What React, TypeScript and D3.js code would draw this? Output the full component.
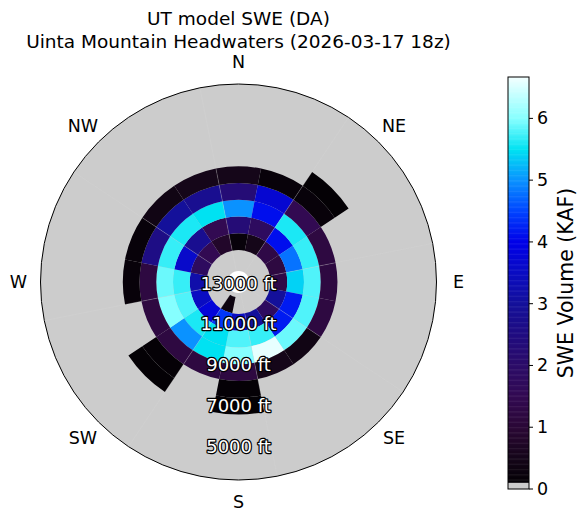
import React from "react";
import * as d3 from "d3";

// aspect bins, clockwise from north, 22.5 deg each
const aspects = ["N", "NNE", "NE", "ENE", "E", "ESE", "SE", "SSE", "S", "SSW", "SW", "WSW", "W", "WNW", "NW", "NNW"];
// elevation bands, bottom edge in metres (each 250 m tall)
const bandBottomsM = [3500, 3250, 3000, 2750, 2500, 2250, 2000];
const bandHeightM = 250;

// SWE volume (KAF) per aspect, one array per band; null = no data
const swe3500 = [null, null, null, null, null, null, null, null, null, 0.3, null, null, null, null, null, null];
const swe3250 = [0.2, 0.5, 1.3, 1.2, 1.3, 3.0, 1.8, 3.0, 3.5, 4.4, 3.8, 3.5, 3.2, 1.8, 1.5, 0.8];
const swe3000 = [2.3, 1.8, 4.1, 4.8, 5.4, 4.2, 4.2, 5.7, 5.8, 5.5, 5.6, 5.8, 5.7, 3.6, 2.8, 1.5];
const swe2750 = [5.0, 4.1, 5.6, 5.7, 5.8, 5.8, 5.9, 6.6, 6.0, 5.5, 5.0, 6.0, 5.9, 5.7, 5.6, 5.5];
const swe2500 = [2.3, 3.7, 1.5, 1.2, 1.2, 1.2, 0.4, 0.5, 1.2, 1.2, 1.2, 1.2, 1.2, 2.6, 3.0, 2.8];
const swe2250 = [0.5, 0.2, 0.2, null, null, null, null, null, 0.12, null, 0.12, null, 0.2, 0.2, 0.4, 0.5];
const swe2000 = [null, null, 0.1, null, null, null, null, null, 0.1, null, 0.1, null, null, null, null, null];
const sweBands = [swe3500, swe3250, swe3000, swe2750, swe2500, swe2250, swe2000];

const compassLabels = ["N", "NE", "E", "SE", "S", "SW", "W", "NW"];
const elevTicksFt = [13000, 11000, 9000, 7000, 5000];
const cbarTicks = [0, 1, 2, 3, 4, 5, 6];

const cmapStops = [0, 0.5, 1.0, 1.5, 2.0, 2.5, 3.0, 3.5, 4.0, 4.5, 5.0, 5.5, 6.0, 6.67];
const cmapColors = ["#000000", "#150619", "#2b0836", "#320a52", "#2c0c68", "#200c80", "#14109a", "#0a0cc2", "#0000e8", "#0044ff", "#0a92ff", "#00e2f2", "#86ffff", "#f2ffff"];

const FT = 3.28084;
const font = "DejaVu Sans, sans-serif";

export default function App() {
  const W = 577, H = 508;
  const cx = 238.5, cy = 282, R = 198;
  const vmax = 6.67;

  const rScale = d3.scaleLinear().domain([13050, 3350]).range([0, R]);
  const color = d3.scaleLinear<string>().domain(cmapStops).range(cmapColors).interpolate(d3.interpolateRgb).clamp(true);
  const arc = d3.arc<any>();
  const step = (2 * Math.PI) / aspects.length;

  const cells: any[] = [];
  sweBands.forEach((vals, b) => {
    const lo = bandBottomsM[b] * FT;
    const hi = (bandBottomsM[b] + bandHeightM) * FT;
    vals.forEach((v, i) => {
      if (v == null) return;
      cells.push({
        key: `${b}-${i}`,
        d: arc({
          innerRadius: Math.max(0, rScale(hi)),
          outerRadius: rScale(lo),
          startAngle: i * step - step / 2,
          endAngle: i * step + step / 2,
        }),
        fill: color(v),
      });
    });
  });

  // colorbar
  const cbX = 508, cbW = 21, cbTop = 77, cbBot = 489;
  const cbScale = d3.scaleLinear().domain([0, vmax]).range([cbBot, cbTop]);
  const slices = d3.range(0.1, vmax, 0.02);

  return (
    <svg width={W} height={H} style={{ position: "absolute", left: 0, top: 0, background: "#fff" }} fontFamily={font}>
      <text x={cx} y={18} fontSize={18.5} textAnchor="middle" dominantBaseline="central">UT model SWE (DA)</text>
      <text x={cx} y={41} fontSize={18.5} textAnchor="middle" dominantBaseline="central">Uinta Mountain Headwaters (2026-03-17 18z)</text>

      <circle cx={cx} cy={cy} r={R} fill="#cccccc" />
      <g transform={`translate(${cx},${cy})`}>
        {cells.map((c) => (
          <path key={c.key} d={c.d} fill={c.fill} />
        ))}
        {d3.range(8).map((k) => {
          const a = ((k * 45 - 11.25) * Math.PI) / 180;
          return (
            <line key={k} x1={0} y1={0} x2={R * Math.sin(a)} y2={-R * Math.cos(a)} stroke="#d8d8d8" strokeOpacity={0.3} strokeWidth={0.8} />
          );
        })}
        <circle r={11} fill="#ffffff" />
      </g>
      <circle cx={cx} cy={cy} r={R} fill="none" stroke="#000" strokeWidth={1} />

      {compassLabels.map((t, k) => {
        const a = (k * 45 * Math.PI) / 180;
        return (
          <text key={t} x={cx + 220 * Math.sin(a)} y={cy - 220 * Math.cos(a)} fontSize={17.5} textAnchor="middle" dominantBaseline="central">{t}</text>
        );
      })}

      {elevTicksFt.map((e) => (
        <text key={e} x={cx} y={cy + rScale(e)} fontSize={18} textAnchor="middle" dominantBaseline="central"
          fill="#ffffff" stroke="#000" strokeWidth={2.4} paintOrder="stroke" strokeLinejoin="round">{`${e} ft`}</text>
      ))}

      <g>
        {slices.map((v) => (
          <rect key={v} x={cbX} y={cbScale(Math.min(v + 0.02, vmax))} width={cbW} height={cbScale(v) - cbScale(Math.min(v + 0.02, vmax)) + 0.5} fill={color(v + 0.01)} />
        ))}
        <rect x={cbX} y={cbScale(0.1)} width={cbW} height={cbBot - cbScale(0.1)} fill="#cccccc" />
        <rect x={cbX} y={cbTop} width={cbW} height={cbBot - cbTop} fill="none" stroke="#000" strokeWidth={1} />
        {cbarTicks.map((t) => (
          <g key={t} transform={`translate(${cbX + cbW},${cbScale(t)})`}>
            <line x1={0} x2={4} stroke="#000" />
            <text x={8} fontSize={17.5} dominantBaseline="central">{t}</text>
          </g>
        ))}
        <text transform={`translate(566,${(cbTop + cbBot) / 2}) rotate(-90)`} fontSize={20.5} textAnchor="middle" dominantBaseline="central">SWE Volume (KAF)</text>
      </g>
    </svg>
  );
}
